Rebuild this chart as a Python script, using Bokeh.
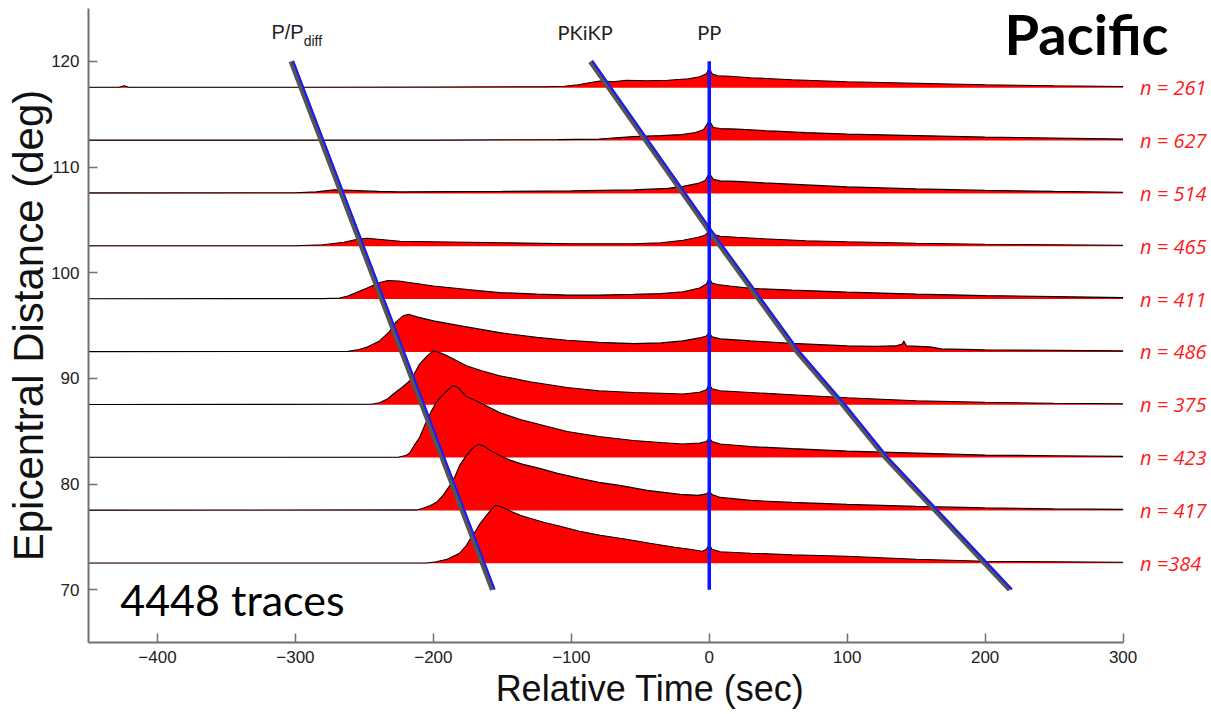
from bokeh.plotting import figure
from bokeh.models import Range1d, FixedTicker
from bokeh.core.properties import value
from bokeh.embed import file_html
from bokeh.resources import INLINE

# ---------------- data ----------------
distances = [117.5, 112.5, 107.5, 102.5, 97.5, 92.5, 87.5, 82.5, 77.5, 72.5]
counts = ["n = 261", "n = 627", "n = 514", "n = 465", "n = 411",
          "n = 486", "n = 375", "n = 423", "n = 417", "n =384"]

# stacked envelope amplitudes (arbitrary units) vs relative time (s)
t_117 = [-450, -428, -424, -421, -300, -200, -120, -105, -95, -85, -78, -70, -60, -45, -30, -15, -7, -2, 0, 2, 6, 15, 30, 60, 100, 150, 200, 250, 300]
a_117 = [0.5, 0.5, 2, 0.5, 0.5, 0.8, 1, 1.5, 3, 5.5, 7, 6, 7.5, 7, 7.5, 9, 11, 14, 20, 14, 12, 11.5, 10, 8, 6, 4.5, 3, 2, 1.2]

t_112 = [-450, -200, -110, -80, -55, -35, -20, -10, -4, 0, 3, 8, 20, 40, 70, 100, 150, 200, 250, 300]
a_112 = [0.5, 0.5, 1, 1.5, 4, 5, 6, 8, 11, 20, 13, 12, 11.5, 10, 8, 6.5, 5, 3.5, 2.5, 1.5]

t_107 = [-450, -300, -285, -272, -260, -240, -224, -150, -100, -55, -30, -19, -8, -3, 0, 3, 8, 20, 40, 70, 100, 150, 200, 250, 300]
a_107 = [0.5, 0.7, 1.5, 3.5, 3, 2, 1.5, 2, 2.5, 3.5, 5, 7, 10, 13, 20, 14, 12.5, 12, 10.5, 8.5, 6.5, 4.5, 3, 2, 1.2]

t_102 = [-450, -300, -280, -265, -255, -248, -240, -224, -200, -150, -100, -55, -35, -19, -8, -3, 0, 3, 8, 20, 40, 70, 100, 150, 200, 300]
a_102 = [0.5, 0.5, 1.5, 4, 7, 8, 7, 5, 4.5, 3.5, 2.5, 2.5, 3.5, 6, 9, 11, 16, 12, 10, 9, 7.5, 5.5, 4.5, 3, 2, 1]

t_97 = [-450, -280, -268, -262, -255, -248, -240, -233, -225, -215, -200, -175, -152, -125, -103, -80, -55, -35, -19, -7, -2, 0, 2, 6, 15, 30, 60, 100, 150, 200, 250, 300]
a_97 = [0.3, 0.5, 1, 3, 7, 11, 16, 18.5, 18, 16, 13, 9.5, 6.5, 5, 4, 4, 4.7, 5.5, 7.3, 11, 15, 21, 16, 14.5, 13, 10.7, 9, 7, 5, 3.5, 2.5, 1.5]

t_92 = [-450, -262, -255, -248, -239, -232, -227, -222, -218, -212, -200, -180, -152, -125, -103, -80, -55, -35, -19, -7, -2, 0, 2, 8, 30, 60, 100, 120, 135, 140, 141, 143, 160, 168, 200, 250, 300]
a_92 = [0.3, 0.5, 2, 5, 11, 20, 30, 36, 37.7, 35, 31, 26, 19.3, 14.5, 11.7, 9.5, 8.3, 9, 11, 14, 16, 19.3, 15, 13, 11, 8.5, 6, 5.5, 6, 8, 11, 6, 5, 3, 2, 1.5, 1]

t_87 = [-450, -245, -239, -233, -229, -223, -217, -213, -210, -205, -200, -195, -190, -183, -176, -165, -152, -130, -103, -80, -55, -35, -19, -7, -2, 0, 2, 8, 30, 60, 100, 150, 200, 250, 300]
a_87 = [0.3, 0.5, 2, 6, 10.7, 17, 24, 33, 40.7, 48, 54, 52, 49, 44, 39, 34, 29, 23, 17.3, 14, 12.3, 11.5, 10.7, 12.5, 15, 20.7, 16, 14, 12.3, 10, 7, 4, 2.5, 1.5, 1]

t_82 = [-450, -225, -220, -217, -213, -210, -206, -202, -198, -195, -190, -186, -182, -176, -165, -152, -137, -120, -103, -80, -55, -35, -19, -7, -2, 0, 2, 8, 30, 60, 100, 150, 200, 250, 300]
a_82 = [0.3, 0.5, 2, 5, 14, 20, 33, 45, 55, 60, 67, 72, 70, 61, 54, 45, 38, 32, 26, 21, 17, 15, 13.5, 14.5, 16, 20, 16, 13.5, 11, 9, 6.5, 4.5, 2.5, 1.8, 1.2]

t_77 = [-450, -212, -208, -202, -197, -193, -188, -184, -181, -177, -173, -170, -167, -163, -159, -152, -144, -135, -123, -110, -94, -80, -65, -45, -21, -8, -2, 0, 2, 8, 30, 60, 100, 150, 200, 250, 300]
a_77 = [0.3, 0.5, 2, 5, 9, 15, 25, 35, 45, 53, 60, 64, 66, 64, 60, 55, 50, 46, 42, 37, 32, 28, 25, 20, 16, 15, 16.5, 19, 16, 13, 10, 8, 6, 4, 2.5, 1.5, 1]

t_72 = [-450, -205, -198, -190, -181, -176, -173, -169, -166, -162, -159, -155, -150, -144, -137, -130, -120, -108, -94, -79, -60, -43, -25, -14, -5, -2, 0, 2, 8, 30, 60, 100, 150, 200, 250, 300]
a_72 = [0.3, 0.3, 1.5, 4, 10, 18, 25, 33, 40, 47, 52, 58, 56, 52, 48, 45, 41, 37, 32, 28, 24, 20, 16, 14, 12, 14, 19, 14, 11.5, 10, 8.5, 7, 4, 2, 1.5, 1]

trace_times = [t_117, t_112, t_107, t_102, t_97, t_92, t_87, t_82, t_77, t_72]
trace_amps = [a_117, a_112, a_107, a_102, a_97, a_92, a_87, a_82, a_77, a_72]
AMP_GAIN = 1 / 10.56  # amplitude units -> degrees on the plot

# predicted phase arrivals (time, distance)
p_dist = [120, 70]
p_time = [-303, -157]
pkikp_dist = [120, 104, 92.5, 87.5, 82.5, 77.5, 72.5, 70]
pkikp_time = [-86, 0, 64, 97, 128, 164, 200, 218]
pp_dist = [120, 70]
pp_time = [0, 0]

x_ticks = [-400, -300, -200, -100, 0, 100, 200, 300]
y_ticks = [70, 80, 90, 100, 110, 120]

# ---------------- figure ----------------
W, H = 1211, 714
X0, X1 = -450, 364.1
p = figure(width=W, height=H, x_range=Range1d(X0, X1), y_range=Range1d(65, 125),
           output_backend="svg", toolbar_location=None,
           min_border_left=88, min_border_right=0, min_border_top=8, min_border_bottom=72)
p.grid.visible = False
p.outline_line_color = None
p.background_fill_color = "white"
p.border_fill_color = "white"

px_per_unit = (W - 88) / (X1 - X0)

for base, t, a in zip(distances, trace_times, trace_amps):
    top = [base + v * AMP_GAIN for v in a]
    p.varea(x=t, y1=base, y2=top, fill_color="#ff0000")
    p.line(x=t, y=top, line_color="black", line_width=1.1)

# phase lines: gray with blue edge
dx = 2.0 / px_per_unit
for tt, dd in [(p_time, p_dist), (pkikp_time, pkikp_dist)]:
    p.line(x=tt, y=dd, line_color="#555555", line_width=5.5, line_join="round")
    p.line(x=[v + dx for v in tt], y=dd, line_color="#1a1aff", line_width=2, line_join="round")
p.line(x=pp_time, y=pp_dist, line_color="#0a14ff", line_width=3.5)

# phase labels
p.text(x=[-294], y=[122.75], text=["P/P"], text_align="right", text_baseline="alphabetic",
       text_font=value("Liberation Sans"), text_font_size="20px", text_color="#222222")
p.text(x=[-294], y=[121.9], text=["diff"], text_align="left", text_baseline="alphabetic",
       text_font=value("Liberation Sans"), text_font_size="14px", text_color="#222222")
p.text(x=[-90, 0], y=[122.75, 122.75], text=["PKiKP", "PP"], text_align="center",
       text_baseline="alphabetic", text_font=value("Lato"), text_font_size="20px",
       text_color="#222222")

# counts
p.text(x=[300] * len(distances), y=distances, text=counts, x_offset=17,
       text_align="left", text_baseline="middle", text_font=value("Open Sans"),
       text_font_style="italic", text_font_size="20px", text_color="#ff1a1a")

p.text(x=[214], y=[122.6], text=["Pacific"], text_align="left", text_baseline="alphabetic",
       text_font=value("Lato"), text_font_style="bold", text_font_size="56px", text_color="black")
p.text(x=[-427], y=[69.1], text=["4448 traces"], text_align="left", text_baseline="alphabetic",
       text_font=value("Lato"), text_font_size="43px", text_color="black")

# axes
for ax in (p.xaxis[0], p.yaxis[0]):
    ax.axis_line_color = "#707070"
    ax.axis_line_width = 2
    ax.major_tick_line_color = "#707070"
    ax.major_tick_line_width = 1.5
    ax.major_tick_in = 9
    ax.major_tick_out = 0
    ax.minor_tick_in = 0
    ax.minor_tick_out = 0
    ax.major_label_text_font = "Liberation Sans"
    ax.major_label_text_font_size = "17px"
    ax.major_label_text_color = "#222222"
    ax.axis_label_text_font = "Liberation Sans"
    ax.axis_label_text_font_style = "normal"
    ax.axis_label_text_color = "#111111"

p.xaxis.bounds = (-450, 300)
p.xaxis.ticker = FixedTicker(ticks=x_ticks)
p.xaxis.major_label_overrides = {t: str(t).replace("-", "\u2212") for t in x_ticks}
p.xaxis.major_label_standoff = 8
p.xaxis.axis_label = "Relative Time (sec)"
p.xaxis.axis_label_text_font_size = "36px"
p.xaxis.axis_label_standoff = 2

p.yaxis.bounds = (65, 125)
p.yaxis.ticker = FixedTicker(ticks=y_ticks)
p.yaxis.major_label_standoff = 9
p.yaxis.axis_label = "Epicentral Distance (deg)"
p.yaxis.axis_label_text_font_size = "42px"
p.yaxis.axis_label_standoff = -4

open("out.html", "w").write(file_html(p, INLINE))
